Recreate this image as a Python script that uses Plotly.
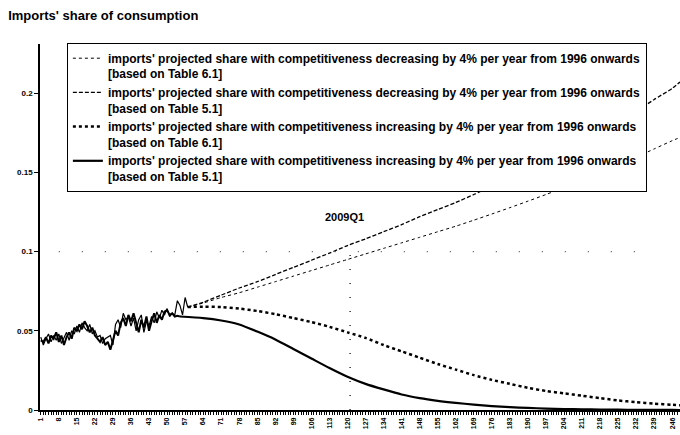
import plotly.graph_objects as go

# historical quarters (index) and observed import shares
hist_x_51 = list(range(1, 56))
hist_51 = [0.044, 0.043, 0.046, 0.042, 0.047, 0.045, 0.049, 0.043, 0.047, 0.041,
           0.046, 0.049, 0.045, 0.052, 0.050, 0.054, 0.051, 0.056, 0.053, 0.049,
           0.052, 0.047, 0.045, 0.043, 0.046, 0.041, 0.043, 0.038, 0.044, 0.050,
           0.047, 0.055, 0.058, 0.053, 0.060, 0.056, 0.061, 0.054, 0.049, 0.057,
           0.052, 0.059, 0.050, 0.056, 0.061, 0.055, 0.060, 0.057, 0.062, 0.063,
           0.060, 0.061, 0.059, 0.0595, 0.059]

hist_x_61 = list(range(1, 59))
hist_61 = [0.046, 0.041, 0.045, 0.048, 0.043, 0.047, 0.044, 0.048, 0.042, 0.046,
           0.049, 0.044, 0.050, 0.048, 0.053, 0.049, 0.055, 0.052, 0.050, 0.054,
           0.048, 0.050, 0.046, 0.047, 0.042, 0.045, 0.046, 0.047, 0.041, 0.054,
           0.057, 0.052, 0.061, 0.057, 0.059, 0.053, 0.058, 0.050, 0.057, 0.060,
           0.049, 0.056, 0.053, 0.059, 0.055, 0.062, 0.058, 0.063, 0.060, 0.064,
           0.059, 0.061, 0.060, 0.069, 0.066, 0.060, 0.071, 0.065]

# projections
proj_x = [58, 64, 71, 78, 85, 92, 99, 106, 113, 120, 127, 134, 141, 148, 155,
          162, 169, 176, 183, 190, 197, 204, 211, 218, 225, 232, 239, 246, 249]
dec_61 = [0.065, 0.0675, 0.071, 0.074, 0.0775, 0.081, 0.0845, 0.088, 0.0915, 0.095,
          0.0985, 0.102, 0.1055, 0.109, 0.1125, 0.116, 0.1198, 0.1237, 0.1277, 0.1318,
          0.136, 0.1405, 0.145, 0.1497, 0.1545, 0.1595, 0.1648, 0.170, 0.172]
dec_51 = [0.065, 0.068, 0.0725, 0.077, 0.081, 0.0855, 0.090, 0.0945, 0.099, 0.1038,
          0.108, 0.1125, 0.117, 0.122, 0.1265, 0.131, 0.136, 0.1415, 0.147, 0.1525,
          0.158, 0.164, 0.170, 0.176, 0.182, 0.1885, 0.196, 0.203, 0.207]
inc_61 = [0.065, 0.0652, 0.065, 0.064, 0.0625, 0.0605, 0.058, 0.0555, 0.0525, 0.049,
          0.0455, 0.041, 0.037, 0.033, 0.029, 0.0255, 0.022, 0.019, 0.0165, 0.014,
          0.012, 0.0105, 0.009, 0.0075, 0.006, 0.005, 0.004, 0.0033, 0.003]
inc_x_51 = [55, 64, 71, 78, 85, 92, 99, 106, 113, 120, 127, 134, 141, 148, 155,
            162, 169, 176, 183, 190, 197, 204, 211, 218, 225, 232, 239, 246, 249]
inc_51 = [0.059, 0.058, 0.0565, 0.054, 0.0495, 0.0445, 0.0385, 0.0325, 0.0265, 0.021,
          0.0165, 0.013, 0.0098, 0.0075, 0.0058, 0.0045, 0.0034, 0.0025, 0.0018, 0.0013,
          0.0009, 0.0006, 0.0004, 0.0003, 0.0002, 0.0001, 0.0001, 0.0001, 0.0]

tick_vals = list(range(1, 247, 7))
y_ticks = [0, 0.05, 0.1, 0.15, 0.2]
y_labels = ["0", "0.05", "0.1", "0.15", "0.2"]
marker_q = 121
marker_label = "2009Q1"

line1 = "imports' projected share with competitiveness {} by 4% per year from 1996 onwards<br>[based on Table {}]"
names = [line1.format("decreasing", "6.1"), line1.format("decreasing", "5.1"),
         line1.format("increasing", "6.1"), line1.format("increasing", "5.1")]

FONT = "Liberation Sans"
fig = go.Figure()

fig.add_trace(go.Scatter(x=hist_x_61, y=hist_61, mode="lines", showlegend=False,
                         line=dict(color="black", width=1.2)))
fig.add_trace(go.Scatter(x=hist_x_51, y=hist_51, mode="lines", showlegend=False,
                         line=dict(color="black", width=2)))

styles = [
    (proj_x, dec_61, dict(color="black", width=1, dash="dot")),
    (proj_x, dec_51, dict(color="black", width=1.3, dash="4px,2px")),
    (proj_x, inc_61, dict(color="black", width=2.5, dash="dot")),
    (inc_x_51, inc_51, dict(color="black", width=2.2)),
]
for i, (xs, ys, ln) in enumerate(styles):
    fig.add_trace(go.Scatter(x=xs, y=ys, mode="lines", name=names[i],
                             legendgroup=f"g{i}",
                             line=dict(shape="spline", smoothing=0.6, **ln)))

# dotted reference lines
fig.add_shape(type="line", xref="x", yref="y", x0=8, x1=235, y0=0.1, y1=0.1,
              line=dict(color="#555", width=1.2, dash="1px,22px"))
fig.add_shape(type="line", xref="x", yref="y", x0=marker_q, x1=marker_q, y0=0, y1=0.1,
              line=dict(color="black", width=1.2, dash="1px,13px"))
fig.add_annotation(x=marker_q - 2, y=0.1215, text=f"<b>{marker_label}</b>", showarrow=False,
                   font=dict(family=FONT, size=11, color="black"))

fig.update_layout(
    width=680, height=435,
    paper_bgcolor="white", plot_bgcolor="white",
    margin=dict(l=40, r=0, t=44, b=25, autoexpand=False),
    title=dict(text="<b>Imports' share of consumption</b>", x=0.012, xanchor="left",
               y=0.965, yanchor="middle", automargin=False,
               font=dict(family=FONT, size=13, color="black")),
    font=dict(family=FONT, color="black"),
    legend=dict(x=0.042, y=1.003, xanchor="left", yanchor="top",
                bgcolor="white", bordercolor="black", borderwidth=1,
                font=dict(family=FONT, size=12, color="black", weight="bold"),
                tracegroupgap=0, valign="top", itemwidth=30),
    xaxis=dict(range=[0.7, 249], tickmode="array", tickvals=tick_vals,
               tickangle=-90, showgrid=False, zeroline=False, automargin=False,
               showline=True, linecolor="black", linewidth=1.5,
               ticks="outside", ticklen=3, tickcolor="black",
               minor=dict(dtick=1, tick0=1, ticks="outside", ticklen=3, tickcolor="black"),
               tickfont=dict(family=FONT, size=7, color="black", weight="bold")),
    yaxis=dict(range=[0, 0.231], tickvals=y_ticks, ticktext=y_labels,
               showgrid=False, zeroline=False, automargin=False,
               showline=True, linecolor="black", linewidth=1.5,
               ticks="outside", ticklen=4, tickcolor="black",
               tickfont=dict(family=FONT, size=8, color="black", weight="bold")),
)

fig.write_html("out.html", config={"displayModeBar": False},
               post_script="document.body.style.margin='0';")
